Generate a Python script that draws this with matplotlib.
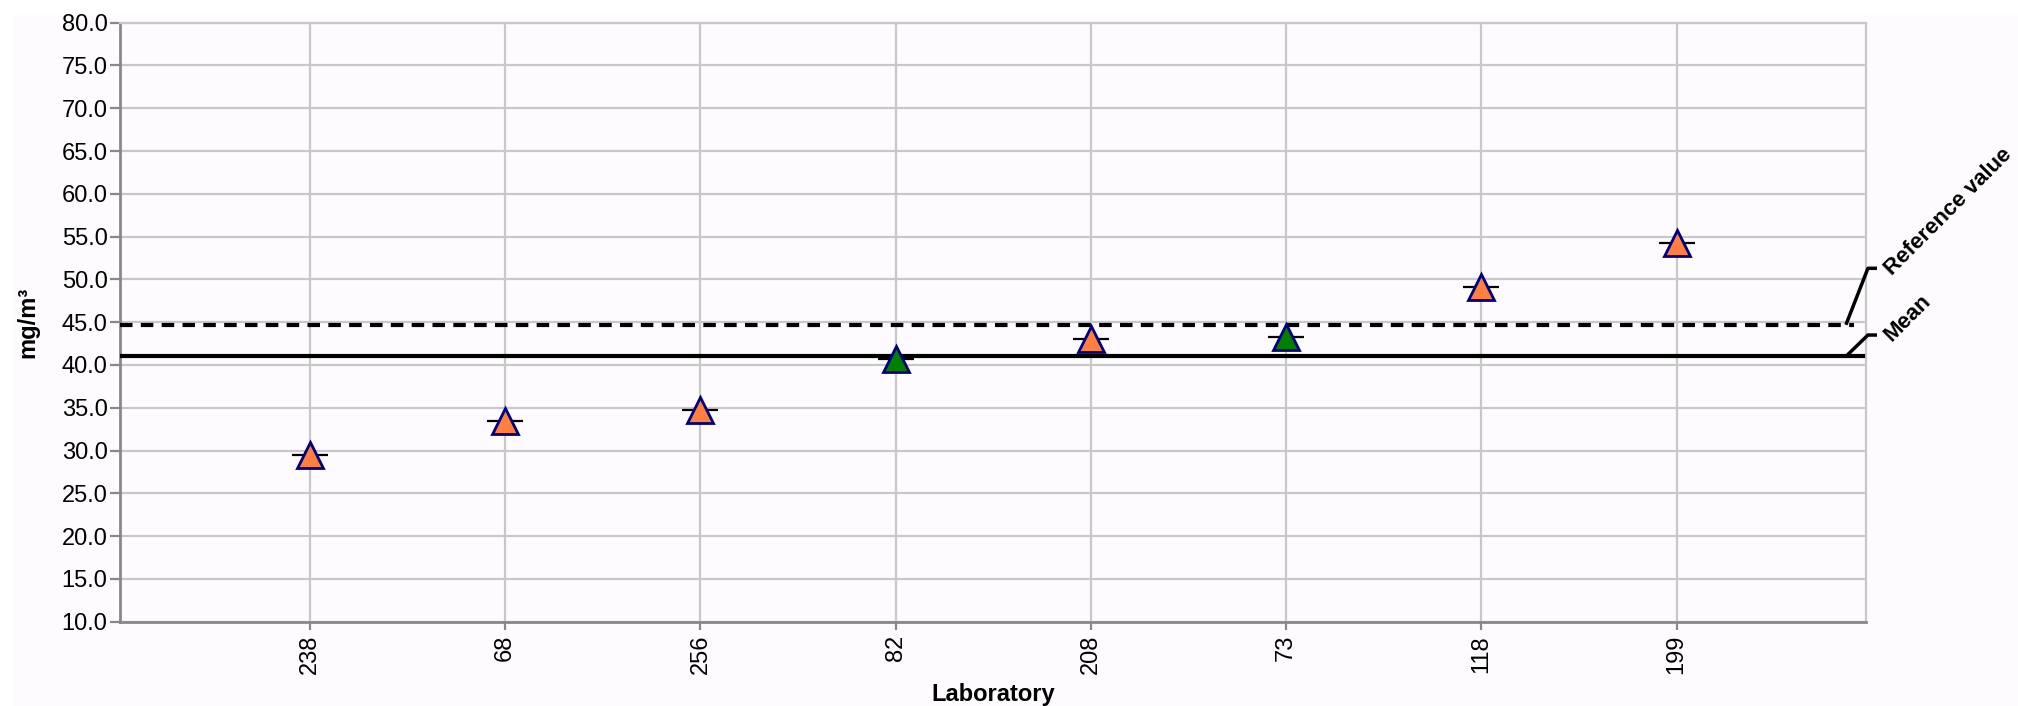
import matplotlib
matplotlib.use('Agg')
import matplotlib.pyplot as plt
from matplotlib.patches import Rectangle

# data
labs = ['238', '68', '256', '82', '208', '73', '118', '199']
values = [29.5, 33.5, 34.7, 40.7, 43.0, 43.3, 49.1, 54.2]
colors = ['#FF7F3F', '#FF7F3F', '#FF7F3F', '#008000', '#FF7F3F', '#008000', '#FF7F3F', '#FF7F3F']
mean_value = 41.0
reference_value = 44.7
yticks = [10 + 5 * i for i in range(15)]

plt.rcParams['font.family'] = ['Liberation Sans', 'DejaVu Sans']

W, H = 2018, 706
fig = plt.figure(figsize=(W / 100, H / 100), dpi=100, facecolor='white')
bg = '#FDFBFD'
fig.patches.append(Rectangle((13 / W, 0), 1, 1 - 15 / H, transform=fig.transFigure,
                             facecolor=bg, edgecolor='none', zorder=-10))

ax = fig.add_axes([120 / W, (H - 621.7) / H, 1746 / W, 599 / H])
ax.set_facecolor(bg)

x = list(range(len(labs)))

# grid
ax.set_xlim(-0.973, 7.97)
ax.set_ylim(10, 80)
ax.set_yticks(yticks)
ax.set_yticklabels(['%.1f' % v for v in yticks])
ax.set_xticks(x)
ax.set_xticklabels(labs, rotation=90)
ax.grid(True, color='#C8C8C8', linewidth=1.6, zorder=0)
ax.set_axisbelow(True)

for side in ['top', 'right']:
    ax.spines[side].set_color('#C8C8C8')
    ax.spines[side].set_linewidth(1.6)
for side in ['left', 'bottom']:
    ax.spines[side].set_color('#888888')
    ax.spines[side].set_linewidth(2)
ax.tick_params(axis='y', length=7, width=1.6, color='#888888', pad=2, labelsize=17)
ax.tick_params(axis='x', length=6, width=1.6, color='#888888', pad=3.5, labelsize=17)

# mean and reference lines
ax.axhline(mean_value, xmin=0, xmax=0.998, color='black', linewidth=3, zorder=3)
ax.axhline(reference_value, xmin=0, xmax=0.993, color='black', linewidth=3,
           linestyle=(0, (3, 2)), zorder=3)

# leaders and labels on the right
ytr = ax.get_yaxis_transform()
for val, off, label in [(mean_value, 2.5, 'Mean'), (reference_value, 6.6, 'Reference value')]:
    ax.plot([0.9885, 1.0011, 1.0063], [val, val + off, val + off], color='black',
            linewidth=2.5, transform=ytr, clip_on=False, solid_capstyle='butt', zorder=4)
    ax.text(1.0125, val + off - 0.4, label, transform=ytr, rotation=45,
            rotation_mode='anchor', ha='left', va='center', fontsize=16,
            fontweight='bold')

# points
for xi, v, c in zip(x, values, colors):
    ax.plot(xi, v, marker='_', markersize=26, markeredgewidth=1.6, color='black', zorder=5)
    ax.plot(xi, v, marker='^', markersize=18.5, markerfacecolor=c,
            markeredgecolor='#000080', markeredgewidth=2, linestyle='none', zorder=6)

ax.set_ylabel('mg/m³', fontsize=17, fontweight='bold')
ax.yaxis.set_label_coords(-0.046, 0.5)
ax.set_xlabel('Laboratory', fontsize=17, fontweight='bold')
ax.xaxis.set_label_coords(0.5, -0.102)

fig.savefig('out.png', dpi=100, facecolor=fig.get_facecolor())
